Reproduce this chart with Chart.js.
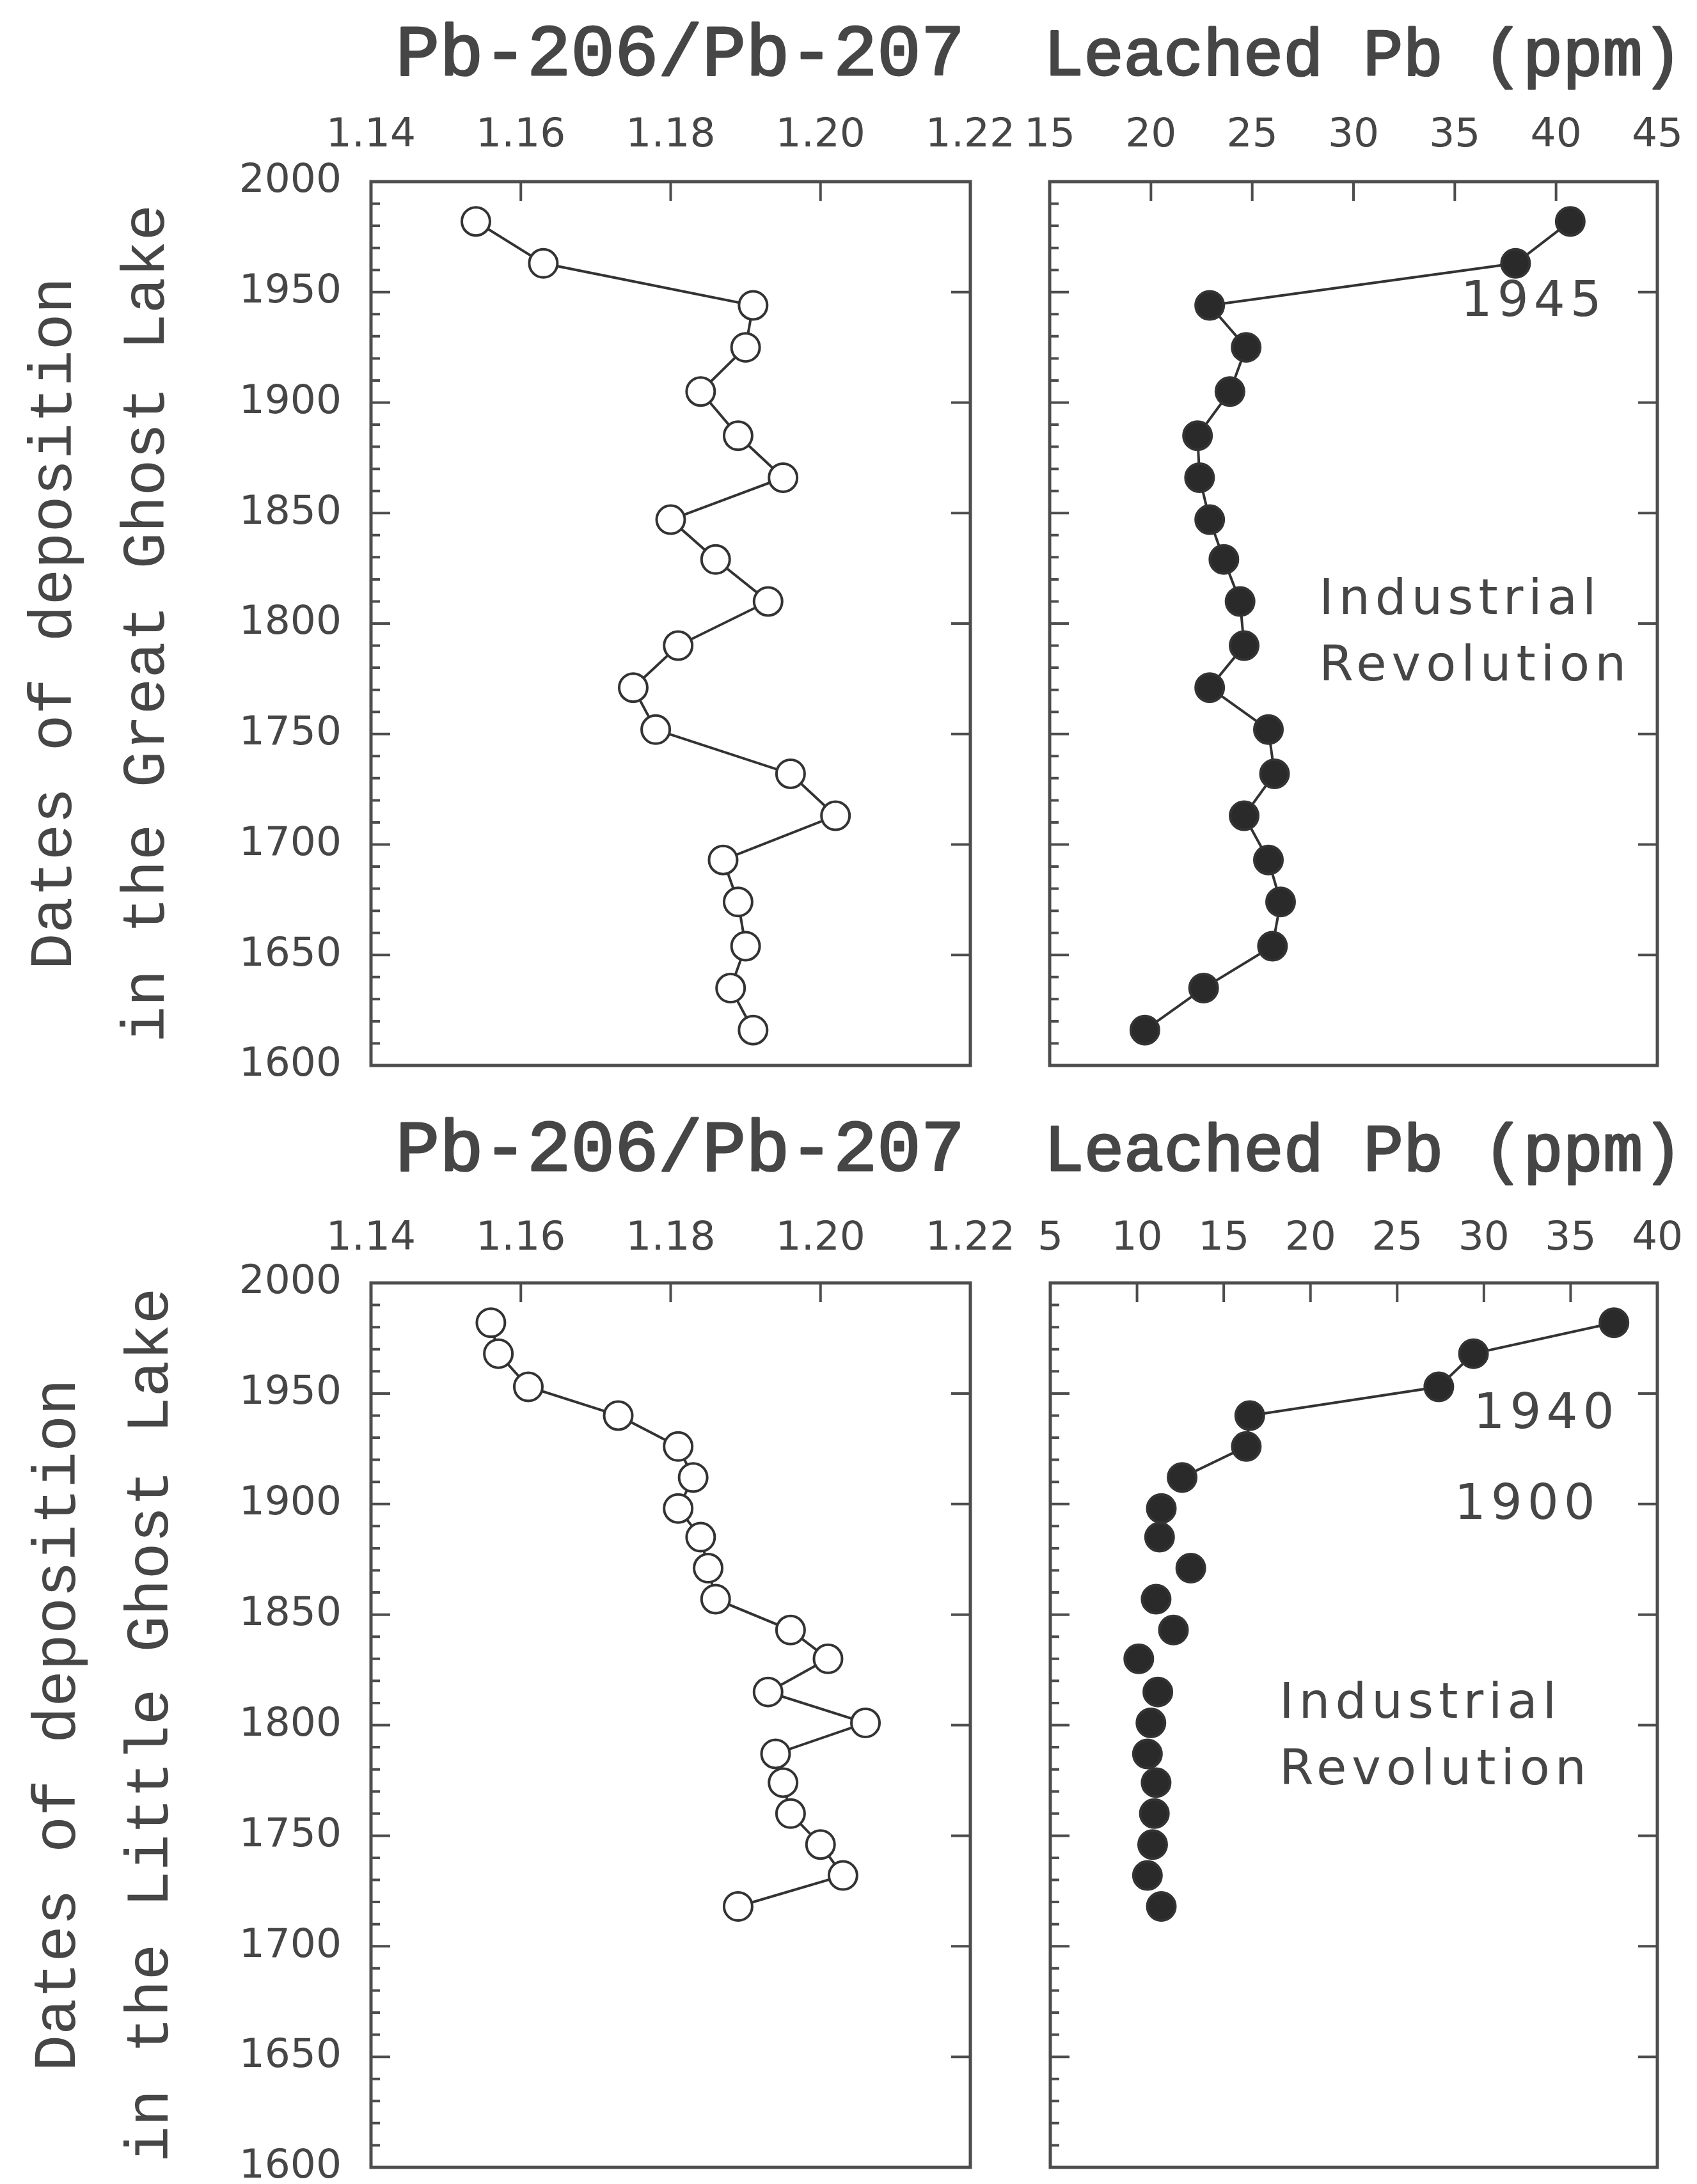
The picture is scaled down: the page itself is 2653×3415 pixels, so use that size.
<!DOCTYPE html>
<html>
<head>
<meta charset="utf-8">
<title>Lead records in the Great and Little Ghost Lake sediments</title>
<script src="https://cdn.jsdelivr.net/npm/chart.js@4.4.1/dist/chart.umd.min.js"></script>
<style>
  html, body { margin: 0; padding: 0; background: #fff; }
  body { position: relative; width: 2653px; height: 3415px; overflow: hidden; }
  canvas { position: absolute; }
</style>
</head>
<body>
<canvas id="great-ratio" width="1640" height="1750" style="left:0;top:0"></canvas>
<canvas id="great-pb" width="1110" height="1750" style="left:1560px;top:0"></canvas>
<canvas id="little-ratio" width="1640" height="1743" style="left:0;top:1730px"></canvas>
<canvas id="little-pb" width="1110" height="1743" style="left:1560px;top:1730px"></canvas>
<script>
'use strict';

// Great Ghost Lake: sample dates (years AD), isotope ratio, leached lead (ppm)
const greatYears = [1982, 1963, 1944, 1925, 1905, 1885, 1866, 1847, 1829, 1810, 1790, 1771, 1752, 1732, 1713, 1693, 1674, 1654, 1635, 1616];
const greatRatio = [1.154, 1.163, 1.191, 1.190, 1.184, 1.189, 1.195, 1.180, 1.186, 1.193, 1.181, 1.175, 1.178, 1.196, 1.202, 1.187, 1.189, 1.190, 1.188, 1.191];
const greatPb = [40.7, 38.0, 22.9, 24.7, 23.9, 22.3, 22.4, 22.9, 23.6, 24.4, 24.6, 22.9, 25.8, 26.1, 24.6, 25.8, 26.4, 26.0, 22.6, 19.7];

// Little Ghost Lake
const littleYears = [1982, 1968, 1953, 1940, 1926, 1912, 1898, 1885, 1871, 1857, 1843, 1830, 1815, 1801, 1787, 1774, 1760, 1746, 1732, 1718];
const littleRatio = [1.156, 1.157, 1.161, 1.173, 1.181, 1.183, 1.181, 1.184, 1.185, 1.186, 1.196, 1.201, 1.193, 1.206, 1.194, 1.195, 1.196, 1.200, 1.203, 1.189];
const littlePb = [37.5, 29.4, 27.4, 16.5, 16.3, 12.6, 11.4, 11.3, 13.1, 11.1, 12.1, 10.1, 11.2, 10.8, 10.6, 11.1, 11.0, 10.9, 10.6, 11.4];
// in the scan only the first six Little Ghost Lake lead samples are joined by a line
const littlePbLinked = 6;

// axis ticks
const yearTicks = [1600, 1650, 1700, 1750, 1800, 1850, 1900, 1950, 2000];
const ratioTicks = [1.14, 1.16, 1.18, 1.20, 1.22];
const greatPbTicks = [15, 20, 25, 30, 35, 40, 45];
const littlePbTicks = [5, 10, 15, 20, 25, 30, 35, 40];

const ink = '#333333';
const frameInk = '#4d4d4d';
const textInk = '#464646';
const tickFont = { family: '"DejaVu Sans", sans-serif', size: 63 };

Chart.defaults.color = textInk;

// frame with inward ticks, the caption above the axis and the text notes
const panelDecor = {
  id: 'panelDecor',
  beforeDatasetsDraw(chart, args, opts) {
    const { ctx, chartArea: area, scales: { x, y } } = chart;
    ctx.save();
    ctx.strokeStyle = frameInk;
    ctx.lineWidth = 4;
    ctx.beginPath();
    opts.xTicks.slice(1, -1).forEach((v) => {
      const px = x.getPixelForValue(v);
      ctx.moveTo(px, area.top);
      ctx.lineTo(px, area.top + 30);
    });
    // minor ticks every 10 years on the left, major ones every 50 on both sides
    const first = yearTicks[0];
    const last = yearTicks[yearTicks.length - 1];
    for (let year = first + 10; year < last; year += 10) {
      const py = y.getPixelForValue(year);
      const major = yearTicks.includes(year);
      ctx.moveTo(area.left, py);
      ctx.lineTo(area.left + (major ? 30 : 14), py);
      if (major) {
        ctx.moveTo(area.right - 30, py);
        ctx.lineTo(area.right, py);
      }
    }
    ctx.stroke();
    ctx.lineWidth = 5;
    ctx.strokeRect(area.left, area.top, area.right - area.left, area.bottom - area.top);
    ctx.restore();
  },
  afterDatasetsDraw(chart, args, opts) {
    const { ctx, chartArea: area, scales: { x, y } } = chart;
    ctx.save();
    ctx.fillStyle = textInk;
    ctx.strokeStyle = textInk;
    ctx.lineWidth = 3;
    ctx.lineJoin = 'round';
    ctx.font = `${opts.captionSize}px "Liberation Mono", monospace`;
    ctx.textAlign = 'center';
    ctx.textBaseline = 'alphabetic';
    const cx = (area.left + area.right) / 2 + 15;
    const cy = area.top - opts.captionRise;
    // a thin outline gives the typewriter weight of the scanned captions
    ctx.fillText(opts.caption, cx, cy);
    ctx.strokeText(opts.caption, cx, cy);

    ctx.font = '77px "DejaVu Sans", sans-serif';
    ctx.letterSpacing = '8px';
    ctx.textBaseline = 'middle';
    opts.notes.forEach((note) => {
      ctx.textAlign = note.align;
      ctx.fillText(note.text, x.getPixelForValue(note.x), y.getPixelForValue(note.y));
    });
    ctx.restore();
  },
};

function makePanel(id, cfg) {
  const points = cfg.values.map((v, i) => ({ x: v, y: cfg.years[i] }));
  const xTicks = cfg.xTicks;
  const hasYAxis = !!cfg.yTitle;
  return new Chart(document.getElementById(id), {
    type: 'scatter',
    data: {
      datasets: [
        {
          data: points,
          showLine: true,
          borderColor: ink,
          borderWidth: 4,
          pointRadius: 22,
          pointHoverRadius: 22,
          pointBorderWidth: 4,
          pointBorderColor: ink,
          pointBackgroundColor: cfg.filled ? '#2a2a2a' : '#ffffff',
          segment: {
            borderColor: (ctx) => (cfg.linked && ctx.p0DataIndex >= cfg.linked - 1 ? 'rgba(0,0,0,0)' : ink),
          },
          clip: false,
        },
      ],
    },
    options: {
      responsive: false,
      animation: false,
      events: [],
      // bottom padding matches the room Chart.js keeps for the last year label
      layout: { padding: cfg.padding },
      plugins: {
        legend: { display: false },
        tooltip: { enabled: false },
        panelDecor: {
          xTicks: xTicks,
          caption: cfg.caption,
          captionSize: cfg.captionSize,
          captionRise: cfg.captionRise,
          notes: cfg.notes || [],
        },
      },
      scales: {
        x: {
          type: 'linear',
          position: 'top',
          min: xTicks[0],
          max: xTicks[xTicks.length - 1],
          afterBuildTicks: (scale) => {
            scale.ticks = xTicks.map((v) => ({ value: v }));
          },
          afterFit: (scale) => {
            scale.height = cfg.axisHeight;
          },
          grid: { display: false, drawTicks: false },
          border: { display: false },
          ticks: {
            font: tickFont,
            color: textInk,
            padding: cfg.tickPad,
            maxRotation: 0,
            callback: (v) => v.toFixed(cfg.decimals),
          },
        },
        y: {
          type: 'linear',
          display: hasYAxis,
          min: yearTicks[0],
          max: yearTicks[yearTicks.length - 1],
          afterBuildTicks: (scale) => {
            scale.ticks = yearTicks.map((v) => ({ value: v }));
          },
          afterFit: (scale) => {
            // the lead panels keep their y scale hidden, so it must take no room
            scale.width = hasYAxis ? 580 : 0;
          },
          grid: { display: false, drawTicks: false },
          border: { display: false },
          ticks: {
            font: tickFont,
            color: textInk,
            padding: 46,
            callback: (v) => String(v),
          },
          title: {
            display: hasYAxis,
            text: cfg.yTitle,
            color: textInk,
            font: { family: '"Liberation Mono", monospace', size: 95, lineHeight: 1.526 },
            padding: { top: cfg.yTitlePad, bottom: 0 },
          },
        },
      },
    },
    plugins: [panelDecor],
  });
}

// Great Ghost Lake
makePanel('great-ratio', {
  years: greatYears,
  values: greatRatio,
  xTicks: ratioTicks,
  decimals: 2,
  caption: 'Pb-206/Pb-207',
  captionSize: 114,
  captionRise: 167,
  axisHeight: 284,
  tickPad: 34,
  padding: { left: 0, top: 0, right: 123, bottom: 84 },
  yTitle: ['Dates of deposition', 'in the Great Ghost Lake'],
  yTitlePad: 13,
});

makePanel('great-pb', {
  years: greatYears,
  values: greatPb,
  filled: true,
  xTicks: greatPbTicks,
  decimals: 0,
  caption: 'Leached Pb (ppm)',
  captionSize: 104,
  captionRise: 167,
  axisHeight: 284,
  tickPad: 34,
  padding: { left: 81, top: 0, right: 79, bottom: 84 },
  notes: [
    { text: '1945', x: 38.9, y: 1945, align: 'center' },
    { text: 'Industrial', x: 28.3, y: 1810, align: 'left' },
    { text: 'Revolution', x: 28.3, y: 1780, align: 'left' },
  ],
});

// Little Ghost Lake
makePanel('little-ratio', {
  years: littleYears,
  values: littleRatio,
  xTicks: ratioTicks,
  decimals: 2,
  caption: 'Pb-206/Pb-207',
  captionSize: 114,
  captionRise: 176,
  axisHeight: 276,
  tickPad: 31,
  padding: { left: 0, top: 0, right: 123, bottom: 84 },
  yTitle: ['Dates of deposition', 'in the Little Ghost Lake'],
  yTitlePad: 19,
});

makePanel('little-pb', {
  years: littleYears,
  values: littlePb,
  filled: true,
  linked: littlePbLinked,
  xTicks: littlePbTicks,
  decimals: 0,
  caption: 'Leached Pb (ppm)',
  captionSize: 104,
  captionRise: 176,
  axisHeight: 276,
  tickPad: 31,
  padding: { left: 82, top: 0, right: 79, bottom: 84 },
  notes: [
    { text: '1940', x: 33.6, y: 1940, align: 'center' },
    { text: '1900', x: 32.5, y: 1899, align: 'center' },
    { text: 'Industrial', x: 18.2, y: 1809, align: 'left' },
    { text: 'Revolution', x: 18.2, y: 1779, align: 'left' },
  ],
});
</script>
</body>
</html>
